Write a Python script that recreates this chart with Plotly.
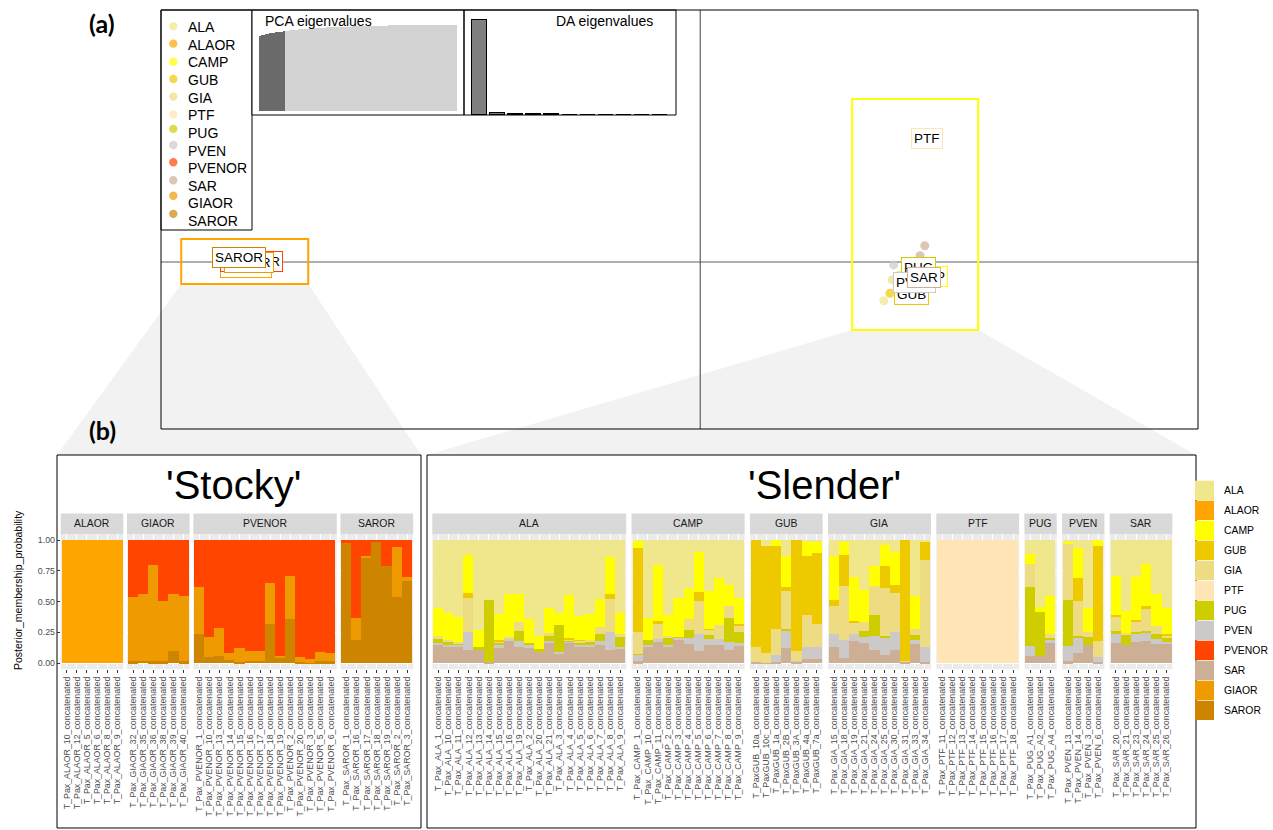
import plotly.graph_objects as go

W, H = 1273, 830
FONT = "Liberation Sans"

# ---------------------------------------------------------------- groups
groups = ["ALA", "ALAOR", "CAMP", "GUB", "GIA", "PTF", "PUG", "PVEN",
          "PVENOR", "SAR", "GIAOR", "SAROR"]
group_colors = ["#F0E68C", "#FFA500", "#FFFF00", "#EEC900", "#EEDC82", "#FFE4B5",
                "#CDCD00", "#CDC9C9", "#FF4500", "#CDAF95", "#EE9A00", "#CD8500"]
COLOR = dict(zip(groups, group_colors))
# stacking order, bottom -> top
stack_order = list(reversed(groups))

# ---------------------------------------------------------------- (a) DAPC scatter
# individual coordinates (LD1, LD2) of the visible points
pt_group = ["ALAOR", "GIAOR", "PVENOR", "SAROR", "PTF", "SAR", "SAR", "PVEN",
            "ALA", "GUB", "GIA", "CAMP", "PUG"]
pt_ld1 = [-8.76, -8.72, -8.68, -8.89, 4.37, 4.33, 4.24, 3.73, 3.54, 3.66, 3.70, 4.20, 4.15]
pt_ld2 = [-0.14, -0.02, 0.00, 0.10, 2.95, 0.39, 0.15, -0.07, -0.93, -0.75, -0.43, 0.00, -0.19]

# group label positions (LD1, LD2), drawn in this order
lab_group = ["ALA", "ALAOR", "CAMP", "GUB", "GIA", "PTF", "PUG", "PVEN",
             "PVENOR", "SAR", "GIAOR", "SAROR"]
lab_ld1 = [4.11, -8.76, 4.34, 4.07, 4.17, 4.37, 4.20, 4.13, -8.66, 4.32, -8.70, -8.89]
lab_ld2 = [-0.46, -0.14, -0.34, -0.79, -0.41, 2.95, -0.12, -0.50, 0.00, -0.38, -0.02, 0.10]

# zoom windows (LD1 range, LD2 range)
zoom_stocky = (-10.01, -7.56, -0.53, 0.55)
zoom_slender = (2.93, 5.36, -1.63, 3.91)

pca_eig = [
    0.870, 0.878, 0.885, 0.891, 0.896, 0.901, 0.905, 0.909, 0.913, 0.917, 0.920, 0.924, 0.927,
    0.930, 0.933, 0.936, 0.939, 0.941, 0.944, 0.946, 0.948, 0.950, 0.952, 0.954, 0.956, 0.958,
    0.960, 0.961, 0.963, 0.964,
    0.966, 0.967, 0.968, 0.970, 0.971, 0.972, 0.973, 0.974, 0.975, 0.976, 0.977, 0.978, 0.979,
    0.980, 0.981, 0.982, 0.982, 0.983, 0.984, 0.985,
    0.985, 0.986, 0.987, 0.987, 0.988, 0.988, 0.989, 0.990, 0.990, 0.991,
    0.991, 0.992, 0.992, 0.993, 0.993, 0.994, 0.994, 0.994, 0.995, 0.995,
    0.995, 0.996, 0.996, 0.996, 0.997, 0.997, 0.997, 0.997, 0.998, 0.998,
    0.998, 0.998, 0.999, 0.999, 0.999, 0.999, 0.999, 1.000, 1.000, 1.000,
    1.000, 1.000, 1.000, 1.000, 1.000, 1.000, 1.000, 1.000, 1.000, 1.000]
n_pca_retained = 13
da_eig = [1.0, 0.025, 0.012, 0.008, 0.006, 0.005, 0.004, 0.003, 0.002, 0.002, 0.001]

# ---------------------------------------------------------------- (b) membership
def ids(prefix, suffixes):
    return [f"{prefix}{s}_concatenated" for s in suffixes]

stocky_facets = ["ALAOR", "GIAOR", "PVENOR", "SAROR"]
slender_facets = ["ALA", "CAMP", "GUB", "GIA", "PTF", "PUG", "PVEN", "SAR"]

samples = {
    "ALAOR": ids("T_Pax_ALAOR_", ["10", "12", "5", "6", "8", "9"]),
    "GIAOR": ids("T_Pax_GIAOR_", ["32", "35", "36", "38", "39", "40"]),
    "PVENOR": ids("T_Pax_PVENOR_", ["1", "10", "13", "14", "15", "16", "17", "18", "19",
                                    "2", "20", "3", "5", "6"]),
    "SAROR": ids("T_Pax_SAROR_", ["1", "16", "17", "18", "19", "2", "3"]),
    "ALA": ids("T_Pax_ALA_", ["1", "10", "11", "12", "13", "14", "15", "16", "19", "2",
                              "20", "21", "3", "4", "5", "6", "7", "8", "9"]),
    "CAMP": ids("T_Pax_CAMP_", ["1", "10", "11", "2", "3", "4", "5", "6", "7", "8", "9"]),
    "GUB": ids("T_PaxGUB_", ["10a", "10c", "1a", "2B", "3A", "4a", "7a"]),
    "GIA": ids("T_Pax_GIA_", ["15", "18", "19", "21", "24", "25", "30", "31", "33", "34"]),
    "PTF": ids("T_Pax_PTF_", ["11", "12", "13", "14", "15", "16", "17", "18"]),
    "PUG": ids("T_Pax_PUG_", ["A1", "A2", "A4"]),
    "PVEN": ids("T_Pax_PVEN_", ["13", "14", "3", "6"]),
    "SAR": ids("T_Pax_SAR_", ["20", "21", "23", "24", "25", "26"]),
}

membership = {
    "ALAOR": {"ALAOR": [1.0, 1.0, 1.0, 1.0, 1.0, 1.0]},
    "GIAOR": {
        "SAROR": [0.016, 0.02, 0.014, 0.014, 0.10, 0.014],
        "GIAOR": [0.524, 0.54, 0.786, 0.491, 0.46, 0.536],
        "PVENOR": [0.46, 0.44, 0.20, 0.495, 0.44, 0.45]},
    "PVENOR": {
        "SAROR": [0.234, 0.05, 0.057, 0.022, 0.01, 0.02, 0.02, 0.32, 0.04, 0.356, 0.01, 0.005, 0.016, 0.016],
        "GIAOR": [0.383, 0.16, 0.228, 0.058, 0.11, 0.08, 0.075, 0.33, 0.017, 0.354, 0.04, 0.025, 0.074, 0.064],
        "PVENOR": [0.383, 0.79, 0.715, 0.92, 0.88, 0.90, 0.905, 0.35, 0.943, 0.29, 0.95, 0.97, 0.91, 0.92]},
    "SAROR": {
        "SAROR": [0.98, 0.19, 0.86, 0.99, 0.79, 0.54, 0.67],
        "GIAOR": [0.0, 0.18, 0.01, 0.0, 0.0, 0.405, 0.03],
        "PVENOR": [0.02, 0.63, 0.13, 0.01, 0.21, 0.055, 0.30]},
    "ALA": {
        "SAR": [0.15, 0.136, 0.136, 0.109, 0.103, 0.01, 0.13, 0.177, 0.13, 0.13, 0.09, 0.166, 0.082, 0.171, 0.136, 0.136, 0.144, 0.109, 0.117],
        "PVEN": [0.013, 0.008, 0.008, 0.141, 0, 0, 0.014, 0.021, 0.047, 0.014, 0, 0.011, 0.008, 0.006, 0.008, 0.008, 0.033, 0.144, 0.013],
        "PUG": [0.033, 0.036, 0.019, 0, 0.027, 0.50, 0.022, 0, 0.081, 0.022, 0.024, 0.051, 0.22, 0.01, 0.027, 0.033, 0.059, 0, 0.09],
        "GIA": [0.021, 0.01, 0.008, 0.277, 0, 0, 0.014, 0.012, 0.076, 0, 0, 0.014, 0, 0.009, 0.011, 0.008, 0.054, 0.271, 0.014],
        "GUB": [0, 0, 0, 0.041, 0, 0, 0.01, 0, 0, 0, 0, 0, 0, 0.008, 0.008, 0, 0, 0.036, 0],
        "CAMP": [0.231, 0.215, 0.204, 0.31, 0.139, 0, 0.207, 0.35, 0.226, 0.19, 0.109, 0.206, 0.095, 0.348, 0.196, 0.215, 0.23, 0.304, 0.171],
        "ALA": [0.552, 0.595, 0.625, 0.122, 0.731, 0.49, 0.603, 0.44, 0.44, 0.644, 0.777, 0.552, 0.595, 0.448, 0.614, 0.60, 0.48, 0.136, 0.595]},
    "CAMP": {
        "SAR": [0.014, 0.136, 0.168, 0.13, 0.185, 0.158, 0.10, 0.15, 0.15, 0.109, 0.136],
        "PVEN": [0.056, 0.011, 0.03, 0.02, 0.025, 0.05, 0.14, 0.05, 0.05, 0.062, 0.03],
        "PUG": [0.006, 0.043, 0, 0.054, 0, 0.058, 0, 0.025, 0, 0.193, 0.084],
        "GIA": [0.174, 0, 0.12, 0.019, 0, 0.09, 0.265, 0.05, 0.11, 0.103, 0.06],
        "GUB": [0.69, 0, 0.022, 0, 0.005, 0, 0.071, 0.005, 0, 0, 0.01],
        "CAMP": [0.055, 0.18, 0.456, 0.167, 0.318, 0.254, 0.324, 0.307, 0.38, 0.166, 0.21],
        "ALA": [0.005, 0.63, 0.204, 0.61, 0.467, 0.39, 0.10, 0.413, 0.31, 0.367, 0.47]},
    "GUB": {
        "SAR": [0.01, 0.005, 0.01, 0.12, 0.01, 0.03, 0.03],
        "PVEN": [0, 0, 0.06, 0.138, 0.01, 0.098, 0.10],
        "PUG": [0, 0, 0, 0.019, 0, 0, 0],
        "GIA": [0.12, 0.075, 0.207, 0.313, 0.075, 0.261, 0.185],
        "GUB": [0.87, 0.87, 0.673, 0.027, 0.905, 0.483, 0.582],
        "CAMP": [0, 0, 0.05, 0.255, 0, 0.118, 0.093],
        "ALA": [0, 0.05, 0, 0.128, 0, 0.01, 0.01]},
    "GIA": {
        "SAR": [0.13, 0.043, 0.177, 0.166, 0.103, 0.0625, 0.109, 0.01, 0.152, 0.008],
        "PVEN": [0.11, 0.142, 0.057, 0.046, 0.114, 0.15, 0.144, 0, 0.038, 0.122],
        "PUG": [0, 0, 0, 0.048, 0.172, 0.008, 0, 0, 0.035, 0],
        "GIA": [0.227, 0.44, 0.10, 0.074, 0.241, 0.394, 0.317, 0.01, 0.049, 0.707],
        "GUB": [0.049, 0.253, 0.008, 0, 0, 0.174, 0.066, 0.98, 0, 0.153],
        "CAMP": [0.356, 0.108, 0.356, 0.264, 0.16, 0.169, 0.269, 0, 0.269, 0],
        "ALA": [0.128, 0.014, 0.302, 0.402, 0.21, 0.0425, 0.095, 0, 0.457, 0.01]},
    "PTF": {"PTF": [1.0, 1.0, 1.0, 1.0, 1.0, 1.0, 1.0, 1.0]},
    "PUG": {
        "SAR": [0.057, 0.057, 0.163],
        "PVEN": [0.079, 0, 0.022],
        "PUG": [0.484, 0.356, 0.019],
        "GIA": [0.19, 0, 0.03],
        "CAMP": [0.076, 0.047, 0.312],
        "ALA": [0.114, 0.54, 0.454]},
    "PVEN": {
        "SAR": [0.016, 0.08, 0.144, 0.01],
        "PVEN": [0.12, 0.132, 0, 0.044],
        "PUG": [0.374, 0.005, 0.068, 0],
        "GIA": [0.457, 0.288, 0.041, 0.123],
        "GUB": [0, 0.185, 0, 0.773],
        "CAMP": [0.019, 0.25, 0.198, 0.05],
        "ALA": [0.014, 0.06, 0.549, 0]},
    "SAR": {
        "SAR": [0.163, 0.144, 0.171, 0.18, 0.158, 0.163],
        "PVEN": [0.071, 0, 0.063, 0.073, 0.04, 0.008],
        "PUG": [0.024, 0.09, 0.019, 0.007, 0.041, 0.033],
        "GIA": [0.122, 0.01, 0.089, 0.183, 0.061, 0.022],
        "GUB": [0.009, 0, 0.011, 0.019, 0, 0.008],
        "CAMP": [0.321, 0.176, 0.347, 0.348, 0.26, 0.217],
        "ALA": [0.29, 0.58, 0.30, 0.19, 0.44, 0.549]},
}

# ---------------------------------------------------------------- helpers
def fx(p):  # pixel column -> paper x
    return p / W

def fy(p):  # pixel row -> paper y
    return 1 - p / H

def rgba(hex_color, a):
    h = hex_color.lstrip("#")
    r, g, b = int(h[0:2], 16), int(h[2:4], 16), int(h[4:6], 16)
    return f"rgba({r},{g},{b},{a})"

def text_at(px, py, text, size, color="black", family=FONT, xanchor="center", **kw):
    return dict(x=fx(px), y=fy(py), xref="paper", yref="paper", text=text, showarrow=False,
                xanchor=xanchor, yanchor="middle", font=dict(family=family, size=size, color=color), **kw)

fig = go.Figure()
shapes, annotations = [], []
layout_axes = {}

# ---------------------------------------------------------------- (a) panel geometry
TOP_L, TOP_R, TOP_T, TOP_B = 161, 1198, 10, 429
LD1_RANGE = (-10.4, 9.6)
LD2_RANGE = (-4.005, 6.043)

def ld1_px(v):
    return TOP_L + (v - LD1_RANGE[0]) / (LD1_RANGE[1] - LD1_RANGE[0]) * (TOP_R - TOP_L)

def ld2_px(v):
    return TOP_B - (v - LD2_RANGE[0]) / (LD2_RANGE[1] - LD2_RANGE[0]) * (TOP_B - TOP_T)

layout_axes["xaxis"] = dict(domain=[fx(TOP_L), fx(TOP_R)], range=list(LD1_RANGE), visible=False,
                            anchor="y", fixedrange=True)
layout_axes["yaxis"] = dict(domain=[fy(TOP_B), fy(TOP_T)], range=list(LD2_RANGE), visible=False,
                            anchor="x", fixedrange=True)

# zoom funnels towards panel (b)
PANEL_T = 455
STOCKY_BOX = (57, 421)
SLENDER_BOX = (427, 1196)

def funnel(win, box):
    x0, x1 = ld1_px(win[0]), ld1_px(win[1])
    yb = ld2_px(win[2])
    pts = [(x0, yb), (box[0], PANEL_T), (box[1], PANEL_T), (x1, yb)]
    path = "M " + " L ".join(f"{fx(a):.5f},{fy(b):.5f}" for a, b in pts) + " Z"
    return dict(type="path", path=path, xref="paper", yref="paper", fillcolor="#F2F2F2",
                line=dict(width=0), layer="below")

shapes.append(funnel(zoom_stocky, STOCKY_BOX))
shapes.append(funnel(zoom_slender, SLENDER_BOX))

# crosshair
shapes.append(dict(type="line", xref="x", yref="paper", x0=0, x1=0, y0=fy(TOP_B), y1=fy(TOP_T),
                   line=dict(color="#5E5E5E", width=1.2), layer="below"))
shapes.append(dict(type="line", xref="paper", yref="y", x0=fx(TOP_L), x1=fx(TOP_R), y0=0, y1=0,
                   line=dict(color="#5E5E5E", width=1.2), layer="below"))

# zoom rectangles
for win, col in [(zoom_stocky, "#FFA500"), (zoom_slender, "#FFFF00")]:
    shapes.append(dict(type="rect", xref="x", yref="y", x0=win[0], x1=win[1], y0=win[2], y1=win[3],
                       line=dict(color=col, width=2), fillcolor="rgba(0,0,0,0)"))

# points
for g in groups:
    xs = [a for a, gg in zip(pt_ld1, pt_group) if gg == g]
    ys = [b for b, gg in zip(pt_ld2, pt_group) if gg == g]
    if xs:
        fig.add_trace(go.Scatter(x=xs, y=ys, mode="markers", xaxis="x", yaxis="y",
                                 marker=dict(size=9, color=rgba(COLOR[g], 0.7), line=dict(width=0)),
                                 showlegend=False, hoverinfo="skip"))

# group labels
for g, a, b in zip(lab_group, lab_ld1, lab_ld2):
    annotations.append(dict(x=a, y=b, xref="x", yref="y", text=g, showarrow=False,
                            xanchor="center", yanchor="middle",
                            font=dict(family=FONT, size=13.5, color="black"),
                            bgcolor="white", bordercolor=COLOR[g], borderwidth=1, borderpad=2))

# frame of panel (a)
shapes.append(dict(type="rect", xref="paper", yref="paper", x0=fx(TOP_L), x1=fx(TOP_R),
                   y0=fy(TOP_B), y1=fy(TOP_T), line=dict(color="black", width=1)))

# legend of panel (a)
LEG_R, LEG_B = 252, 230
shapes.append(dict(type="rect", xref="paper", yref="paper", x0=fx(TOP_L), x1=fx(LEG_R),
                   y0=fy(LEG_B), y1=fy(TOP_T), fillcolor="white", line=dict(color="black", width=1),
                   layer="below"))
dot_shift = [0.7, 1.0, 0.6, 1.0, 1.0, 0.7, 4.0, 5.6, 6.0, 5.6, 7.7, 7.3]
for i, g in enumerate(groups):
    ty = 27 + 17.65 * i
    dy = ty - dot_shift[i]
    shapes.append(dict(type="circle", xref="paper", yref="paper",
                       x0=fx(173.3 - 4.2), x1=fx(173.3 + 4.2), y0=fy(dy + 4.2), y1=fy(dy - 4.2),
                       fillcolor=rgba(COLOR[g], 0.7), line=dict(width=0)))
    annotations.append(text_at(186, ty, g, 14, xanchor="left"))

# PCA eigenvalue inset
PCA_X = (252, 464)
INSET_T, INSET_B = 10, 115
shapes.append(dict(type="rect", xref="paper", yref="paper", x0=fx(PCA_X[0]), x1=fx(PCA_X[1]),
                   y0=fy(INSET_B), y1=fy(INSET_T), fillcolor="white", line=dict(width=0),
                   layer="below"))
shapes.append(dict(type="rect", xref="paper", yref="paper", x0=fx(PCA_X[0]), x1=fx(PCA_X[1]),
                   y0=fy(INSET_B), y1=fy(INSET_T), line=dict(color="black", width=1)))
layout_axes["xaxis2"] = dict(domain=[fx(PCA_X[0]), fx(PCA_X[1])], range=[-4, 103], visible=False,
                             anchor="y2", fixedrange=True)
layout_axes["yaxis2"] = dict(domain=[fy(INSET_B), fy(INSET_T)], range=[-0.0465, 1.174], visible=False,
                             anchor="x2", fixedrange=True)
fig.add_trace(go.Bar(x=list(range(len(pca_eig))), y=pca_eig, xaxis="x2", yaxis="y2", width=0.6,
                     marker=dict(color=["#6A6A6A" if i < n_pca_retained else "#D3D3D3"
                                        for i in range(len(pca_eig))], line=dict(width=0)),
                     showlegend=False, hoverinfo="skip"))
annotations.append(text_at(262.5, 21.5, "PCA eigenvalues", 14, xanchor="left"))

# DA eigenvalue inset
DA_X = (464, 676)
shapes.append(dict(type="rect", xref="paper", yref="paper", x0=fx(DA_X[0]), x1=fx(DA_X[1]),
                   y0=fy(INSET_B), y1=fy(INSET_T), fillcolor="white", line=dict(width=0),
                   layer="below"))
shapes.append(dict(type="rect", xref="paper", yref="paper", x0=fx(DA_X[0]), x1=fx(DA_X[1]),
                   y0=fy(INSET_B), y1=fy(INSET_T), line=dict(color="black", width=1)))
layout_axes["xaxis3"] = dict(domain=[fx(DA_X[0]), fx(DA_X[1])], range=[-0.86, 10.92], visible=False,
                             anchor="y3", fixedrange=True)
layout_axes["yaxis3"] = dict(domain=[fy(INSET_B), fy(INSET_T)], range=[0, 1.105], visible=False,
                             anchor="x3", fixedrange=True)
fig.add_trace(go.Bar(x=list(range(len(da_eig))), y=da_eig, xaxis="x3", yaxis="y3", width=0.8,
                     marker=dict(color="#7F7F7F", line=dict(color="black", width=1)),
                     showlegend=False, hoverinfo="skip"))
annotations.append(text_at(604, 21.5, "DA eigenvalues", 14))

# ---------------------------------------------------------------- (b) panels
for box in (STOCKY_BOX, SLENDER_BOX):
    shapes.append(dict(type="rect", xref="paper", yref="paper", x0=fx(box[0]), x1=fx(box[1]),
                       y0=fy(828), y1=fy(PANEL_T), fillcolor="white",
                       line=dict(color="black", width=1), layer="below"))

annotations.append(text_at(233, 485, "'Stocky'", 40))
annotations.append(text_at(825, 485, "'Slender'", 40))

BAR_T, BAR_B = 533.9, 669.2   # panel rows (y from -0.05 to 1.05)
STRIP_T = 513.5

def facet_spans(start, unit, gap, facets):
    spans, x = [], start
    for f in facets:
        w = (len(samples[f]) + 0.2) * unit
        spans.append((x, x + w))
        x += w + gap
    return spans

spans = facet_spans(60.7, 10.1, 3.7, stocky_facets) + facet_spans(432.3, 10.1, 5.3, slender_facets)
facets = stocky_facets + slender_facets

tick_font = dict(family=FONT, size=8.8, color="#4D4D4D")
layout_axes["yaxis4"] = dict(domain=[fy(BAR_B), fy(BAR_T)], range=[-0.05, 1.05], anchor="x4",
                             tickvals=[0, 0.25, 0.5, 0.75, 1.0],
                             ticktext=["0.00", "0.25", "0.50", "0.75", "1.00"],
                             ticks="outside", ticklen=3, tickcolor="#333333", tickwidth=1,
                             tickfont=tick_font, showgrid=True, gridcolor="white", gridwidth=1,
                             zeroline=False, showline=False, fixedrange=True)

for k, (f, (a, b)) in enumerate(zip(facets, spans)):
    ax = 4 + k
    n = len(samples[f])
    layout_axes[f"xaxis{ax}"] = dict(domain=[fx(a), fx(b)], range=[-0.6, n - 0.4], anchor="y4",
                                     tickvals=list(range(n)), ticktext=samples[f], tickangle=-90,
                                     ticks="outside", ticklen=3, tickcolor="#333333", tickwidth=1,
                                     tickfont=tick_font, showgrid=True, gridcolor="white", gridwidth=1,
                                     zeroline=False, showline=False, fixedrange=True)
    # panel background and strip
    shapes.append(dict(type="rect", xref="paper", yref="paper", x0=fx(a), x1=fx(b),
                       y0=fy(BAR_B), y1=fy(BAR_T), fillcolor="#EBEBEB", line=dict(width=0),
                       layer="below"))
    shapes.append(dict(type="rect", xref="paper", yref="paper", x0=fx(a), x1=fx(b),
                       y0=fy(BAR_T), y1=fy(STRIP_T), fillcolor="#D9D9D9", line=dict(width=0)))
    annotations.append(text_at((a + b) / 2, (STRIP_T + BAR_T) / 2, f, 10.4, color="#1A1A1A"))
    for g in stack_order:
        vals = membership[f].get(g)
        if vals is None:
            continue
        fig.add_trace(go.Bar(x=list(range(n)), y=vals, xaxis=f"x{ax}", yaxis="y4", width=1.0,
                             marker=dict(color=COLOR[g], line=dict(width=0)),
                             showlegend=False, hoverinfo="skip"))

annotations.append(text_at(18, 590, "Posterior_membership_probability", 10.5, textangle=-90))

# legend of panel (b)
for i, g in enumerate(groups):
    top = 480.7 + 20 * i
    shapes.append(dict(type="rect", xref="paper", yref="paper", x0=fx(1195), x1=fx(1214),
                       y0=fy(top + 19.3), y1=fy(top), fillcolor=COLOR[g], line=dict(width=0)))
    annotations.append(text_at(1222, top + 10, g, 10.4, xanchor="left"))

# panel tags
annotations.append(text_at(102, 23, "<b>(a)</b>", 25, family="Lato"))
annotations.append(text_at(102, 430, "<b>(b)</b>", 25, family="Lato"))

fig.update_layout(width=W, height=H, margin=dict(l=0, r=0, t=0, b=0),
                  paper_bgcolor="white", plot_bgcolor="rgba(0,0,0,0)",
                  barmode="stack", bargap=0, showlegend=False,
                  shapes=shapes, annotations=annotations, **layout_axes)

fig.write_html("out.html")
